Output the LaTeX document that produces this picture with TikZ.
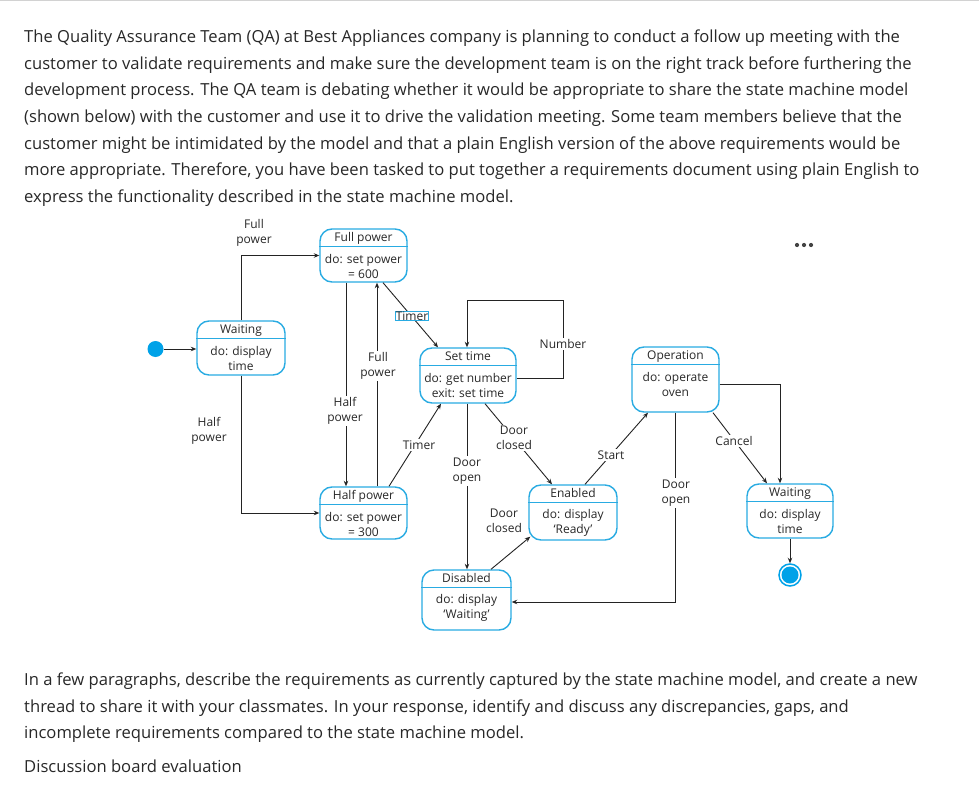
\documentclass[tikz,border=0pt]{standalone}
\usepackage{fontspec}
\setmainfont{Open Sans}
\usetikzlibrary{arrows.meta,calc}
\definecolor{sblue}{RGB}{41,171,226}
\definecolor{cblue}{RGB}{0,162,232}
\definecolor{ink}{RGB}{40,40,40}
\definecolor{lineink}{RGB}{35,35,35}
\definecolor{rulegray}{RGB}{210,210,210}
\newcommand{\mkstate}[7]{%
  \node[statebox, minimum width=#4, minimum height=#5] (#1) at (#2,#3) {};
  \node[hdr] (#1-h) at ([yshift=-10.5pt]#1.north) {#6};
  \draw[divider] ([yshift=-18pt]#1.north west) -- ([yshift=-18pt]#1.north east);
  \node[bodytxt] (#1-b) at ([yshift=-38.5pt]#1.north) {#7};
}
\begin{document}
\begin{tikzpicture}[x=1pt,y=-1pt,
  statebox/.style={draw=sblue, line width=1.4pt, rounded corners=12pt, fill=white, inner sep=0pt},
  divider/.style={draw=sblue, line width=1.3pt},
  hdr/.style={font=\fontsize{12}{14}\selectfont, text=ink, inner sep=0pt, text height=8.5pt, text depth=2.5pt},
  bodytxt/.style={font=\fontsize{12}{15}\selectfont, align=center, text=ink, inner sep=0pt},
  conn/.style={draw=lineink, line width=0.9pt, -{Stealth[length=5.5pt,width=4.5pt]}},
  lbl/.style={font=\fontsize{12}{15}\selectfont, align=center, text=ink, fill=white, inner sep=1.5pt},
  para/.style={font=\fontsize{16.6}{20}\selectfont, text=ink, anchor=base west, inner sep=0pt}]
\useasboundingbox (0,0) rectangle (979,786);
\fill[white] (0,0) rectangle (979,786);
\draw[rulegray, line width=1.5pt] (0,0.75) -- (979,0.75);

% paragraph text
\node[para] (p1) at (24,42.5) {The Quality Assurance Team (QA) at Best Appliances company is planning to conduct a follow up meeting with the};
\node[para] (p2) at (24,69.5) {customer to validate requirements and make sure the development team is on the right track before furthering the};
\node[para] (p3) at (24,96) {development process. The QA team is debating whether it would be appropriate to share the state machine model};
\node[para] (p4) at (24,122.5) {(shown below) with the customer and use it to drive the validation meeting. Some team members believe that the};
\node[para] (p5) at (24,149.5) {customer might be intimidated by the model and that a plain English version of the above requirements would be};
\node[para] (p6) at (24,176) {more appropriate. Therefore, you have been tasked to put together a requirements document using plain English to};
\node[para] (p7) at (24,202.5) {express the functionality described in the state machine model.};

\node[para] (q1) at (24,685.5) {In a few paragraphs, describe the requirements as currently captured by the state machine model, and create a new};
\node[para] (q2) at (24,712.5) {thread to share it with your classmates. In your response, identify and discuss any discrepancies, gaps, and};
\node[para] (q3) at (24,738.5) {incomplete requirements compared to the state machine model.};
\node[para] (q4) at (24,772.5) {Discussion board evaluation};

% states
\mkstate{wl}{241}{348}{88pt}{54pt}{Waiting}{do: display\\time}
\mkstate{fp}{363.5}{255.5}{87pt}{53pt}{Full power}{do: set power\\= 600}
\mkstate{st}{468}{375.5}{96pt}{55pt}{Set time}{do: get number\\exit: set time}
\mkstate{op}{675.5}{379.5}{87pt}{65pt}{Operation}{do: operate\\oven}
\mkstate{hp}{363.5}{513}{87pt}{52pt}{Half power}{do: set power\\= 300}
\mkstate{en}{573}{512.5}{88pt}{55pt}{Enabled}{do: display\\`Ready'}
\mkstate{di}{466.5}{600}{89pt}{60pt}{Disabled}{do: display\\`Waiting'}
\mkstate{wr}{790}{511}{86pt}{54pt}{Waiting}{do: display\\time}

\node[circle, fill=cblue, minimum size=16pt, inner sep=0pt] (init) at (155.5,349) {};
\node[circle, draw=cblue, line width=1.5pt, fill=white, minimum size=22pt, inner sep=0pt] (fin) at (790,575) {};
\node[circle, fill=cblue, minimum size=17pt, inner sep=0pt] (finin) at (fin.center) {};

\foreach \x in {797,804,811} \fill[lineink!85] (\x,245) circle (2.1pt);

% connectors
\coordinate (loopc) at (563,300);
\draw[conn] (init.east) -- (init.east -| wl.west);
\draw[conn] (wl.north) |- (fp.west);
\draw[conn] (wl.south) |- (hp.west);
\draw[conn] ([xshift=-17.5pt]fp.south) -- ([xshift=-17.5pt]hp.north);
\draw[conn] ([xshift=13.5pt]hp.north) -- ([xshift=13.5pt]fp.south);
\draw[conn] ([xshift=19.5pt]fp.south) -- ([xshift=-30pt]st.north);
\draw[conn] ([xshift=25.5pt]hp.north) -- ([xshift=-27pt]st.south);
\draw[conn] ([yshift=-2.5pt]st.east) -| (loopc) -| ([xshift=-1pt]st.north);
\draw[conn] ([xshift=-1pt]st.south) -- ([xshift=-1pt]st.south |- di.north);
\draw[conn] ([xshift=17pt]st.south) -- ([xshift=-21pt]en.north);
\draw[conn] ([xshift=24.5pt]di.north) -- ([xshift=2pt,yshift=4pt]en.south west);
\draw[conn] ([xshift=12pt]en.north) -- ([xshift=-27.5pt]op.south);
\draw[conn] (op.south) |- ([yshift=-2pt]di.east);
\draw[conn] ([xshift=37.5pt]op.south) -- ([xshift=-23pt]wr.north);
\draw[conn] ([yshift=-4.5pt]op.east) -| ([xshift=-10pt]wr.north);
\draw[conn] (wr.south) -- (fin.north);

% labels
\node[lbl, fill=none] (l1) at (254,233) {Full\\power};
\node[lbl, fill=none] (l2) at (209,431) {Half\\power};
\node[lbl] (l3) at (345,411) {Half\\power};
\node[lbl] (l4) at (378,366) {Full\\power};
\node[lbl, draw=sblue, line width=0.9pt, inner sep=0.3pt] (l5) at (412,316) {Timer};
\node[lbl] (l6) at (419,445) {Timer};
\node[lbl] (l7) at (563,344) {Number};
\node[lbl] (l8) at (467,471) {Door\\open};
\node[lbl] (l9) at (514,438) {Door\\closed};
\node[lbl, fill=none] (l10) at (504,521) {Door\\closed};
\node[lbl] (l11) at (611,455) {Start};
\node[lbl] (l12) at (676,493) {Door\\open};
\node[lbl] (l13) at (734,441) {Cancel};
\end{tikzpicture}
\end{document}
